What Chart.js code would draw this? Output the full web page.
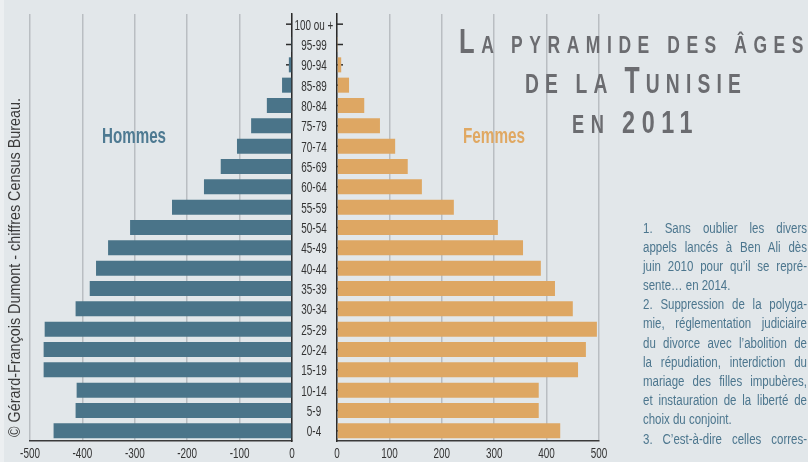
<!DOCTYPE html>
<html lang="fr">
<head>
<meta charset="utf-8">
<title>La pyramide des âges de la Tunisie en 2011</title>
<script src="https://cdn.jsdelivr.net/npm/chart.js@4.4.1/dist/chart.umd.min.js"></script>
<style>
  html, body { margin: 0; padding: 0; }
  body {
    width: 808px; height: 462px; overflow: hidden; position: relative;
    background: #e2e7ea;
    font-family: "Liberation Sans", Arial, sans-serif;
  }
  .edge { position: absolute; left: 0; top: 0; width: 4px; height: 462px; background: #eceff1; }
  #hommes-chart { position: absolute; left: 0; top: 0; }
  #femmes-chart { position: absolute; left: 292px; top: 0; }
  #overlay { position: absolute; left: 0; top: 0; pointer-events: none; }
  /* Arial squeezed to 82 % gives an Arial Narrow look */
  .notes {
    position: absolute; left: 643px; top: 218.5px; width: 200px;
    transform: scaleX(0.82); transform-origin: 0 0;
    font-size: 14px; line-height: 19.2px; color: #4c768e;
  }
  .notes div { height: 19.2px; white-space: nowrap; }
  .notes .j { text-align: justify; text-align-last: justify; }
</style>
</head>
<body>
<div class="edge"></div>
<canvas id="hommes-chart" width="300" height="462"></canvas>
<canvas id="femmes-chart" width="330" height="462"></canvas>

<svg id="overlay" width="808" height="462" xmlns="http://www.w3.org/2000/svg"
     font-family="Liberation Sans, Arial, sans-serif">
  <!-- titre -->
  <g fill="#6b6c70" font-weight="bold" letter-spacing="9">
    <text x="459" y="53" textLength="351" lengthAdjust="spacingAndGlyphs"><tspan font-size="35">L</tspan><tspan font-size="24">A PYRAMIDE DES ÂGES</tspan></text>
    <text x="525" y="93" textLength="222" lengthAdjust="spacingAndGlyphs"><tspan font-size="28">DE LA </tspan><tspan font-size="36">T</tspan><tspan font-size="28">UNISIE</tspan></text>
    <text x="572" y="133" textLength="127" lengthAdjust="spacingAndGlyphs"><tspan font-size="25">EN </tspan><tspan font-size="32">2011</tspan></text>
  </g>
  <!-- sexes -->
  <text x="102" y="143" font-size="22" font-weight="bold" fill="#4e7a92"
        textLength="64" lengthAdjust="spacingAndGlyphs">Hommes</text>
  <text x="463" y="143" font-size="22" font-weight="bold" fill="#e0a862"
        textLength="62" lengthAdjust="spacingAndGlyphs">Femmes</text>
  <!-- source -->
  <text transform="translate(20,437) rotate(-90)" font-size="16" fill="#3a3a3a"
        textLength="339" lengthAdjust="spacingAndGlyphs">© Gérard-François Dumont - chiffres Census Bureau.</text>
</svg>

<div class="notes">
  <div class="j">1. Sans oublier les divers</div>
  <div class="j">appels lancés à Ben Ali dès</div>
  <div class="j">juin 2010 pour qu’il se repré-</div>
  <div>sente… en 2014.</div>
  <div class="j">2. Suppression de la polyga-</div>
  <div class="j">mie, réglementation judiciaire</div>
  <div class="j">du divorce avec l’abolition de</div>
  <div class="j">la répudiation, interdiction du</div>
  <div class="j">mariage des filles impubères,</div>
  <div class="j">et instauration de la liberté de</div>
  <div>choix du conjoint.</div>
  <div class="j">3. C’est-à-dire celles corres-</div>
</div>

<script>
// Classes d'âge (du bas vers le haut de la pyramide)
const ages = ["0-4", "5-9", "10-14", "15-19", "20-24", "25-29", "30-34", "35-39",
  "40-44", "45-49", "50-54", "55-59", "60-64", "65-69", "70-74", "75-79",
  "80-84", "85-89", "90-94", "95-99", "100 ou +"];

const hommes = [-455, -413, -411, -474, -474, -472, -413, -386, -374, -351,
  -309, -229, -168, -136, -105, -78, -48, -19, -6, -1, 0];
const femmes = [426, 385, 385, 460, 475, 496, 450, 416, 389, 355,
  307, 223, 162, 135, 111, 82, 52, 23, 8, 1, 0];

// Bornes des axes horizontaux
const hommesAxis = [-500, 0];
const femmesAxis = [0, 500];

Chart.defaults.font.family = "'Liberation Sans', Arial, sans-serif";

const gridColor = "#b9bec2";
const axisColor = "#2b2b2b";
const textColor = "#333333";
const LABEL_FONT = "15px 'Liberation Sans', Arial, sans-serif";
const SQUEEZE = 0.66; // condensed look for the axis labels

/**
 * Small tick marks pointing into the plot, one per age class
 */
const innerTicks = {
  id: "innerTicks",
  beforeDatasetsDraw(chart, args, opts) {
    const { ctx, chartArea, scales } = chart;
    const right = opts.side === "right";
    const x0 = right ? chartArea.right : chartArea.left;
    const dir = right ? -1 : 1;
    ctx.save();
    ctx.strokeStyle = axisColor;
    ctx.lineWidth = 1.5;
    chart.data.labels.forEach((label, i) => {
      const y = scales.y.getPixelForValue(i);
      ctx.beginPath();
      ctx.moveTo(x0, y);
      ctx.lineTo(x0 + dir * 6, y);
      ctx.stroke();
    });
    ctx.restore();
  },
};

/**
 * Axis labels in a narrow face: value ticks below, age classes beside the axis
 */
const narrowLabels = {
  id: "narrowLabels",
  afterDraw(chart, args, opts) {
    const { ctx, chartArea, scales } = chart;
    const put = (text, x, y) => {
      ctx.save();
      ctx.translate(x, y);
      ctx.scale(SQUEEZE, 1);
      ctx.fillText(text, 0, 0);
      ctx.restore();
    };
    ctx.save();
    ctx.font = LABEL_FONT;
    ctx.fillStyle = textColor;
    ctx.textAlign = "center";
    ctx.textBaseline = "alphabetic";
    scales.x.ticks.forEach((tick, i) => {
      put(String(tick.label), scales.x.getPixelForTick(i), chartArea.bottom + 17);
    });
    if (opts.ages) {
      chart.data.labels.forEach((label, i) => {
        put(label, chartArea.left - 23, scales.y.getPixelForValue(i) + 5.5);
      });
    }
    ctx.restore();
  },
};

function xScale(range) {
  return {
    min: range[0],
    max: range[1],
    ticks: { stepSize: 100, display: false },
    grid: { color: gridColor, lineWidth: 1.5, drawTicks: false },
    border: { color: "#3a3a3a", width: 1.5 },
    afterFit: (scale) => { scale.height = 21; },
  };
}

function yScale(position, width) {
  return {
    position: position,
    reverse: true,
    z: 1,
    ticks: { display: false },
    grid: { display: false, drawTicks: false },
    border: { color: axisColor, width: 1.5 },
    afterFit: (scale) => { scale.width = width; },
  };
}

// Left half: hommes
new Chart(document.getElementById("hommes-chart"), {
  type: "bar",
  data: {
    labels: ages,
    datasets: [{
      label: "Hommes",
      data: hommes,
      backgroundColor: "#4a7489",
      barPercentage: 0.74,
      categoryPercentage: 1,
    }],
  },
  options: {
    indexAxis: "y",
    responsive: false,
    animation: false,
    events: [],
    layout: { padding: { top: 14, left: 30, right: 8, bottom: 0 } },
    plugins: {
      legend: { display: false },
      tooltip: { enabled: false },
      innerTicks: { side: "right" },
      narrowLabels: { ages: false },
    },
    scales: {
      x: xScale(hommesAxis),
      y: yScale("right", 0),
    },
  },
  plugins: [innerTicks, narrowLabels],
});

// Right half: femmes, with the age classes written in the middle gap
new Chart(document.getElementById("femmes-chart"), {
  type: "bar",
  data: {
    labels: ages,
    datasets: [{
      label: "Femmes",
      data: femmes,
      backgroundColor: "#dea763",
      barPercentage: 0.74,
      categoryPercentage: 1,
    }],
  },
  options: {
    indexAxis: "y",
    responsive: false,
    animation: false,
    events: [],
    layout: { padding: { top: 14, left: 0, right: 23, bottom: 0 } },
    plugins: {
      legend: { display: false },
      tooltip: { enabled: false },
      innerTicks: { side: "left" },
      narrowLabels: { ages: true },
    },
    scales: {
      x: xScale(femmesAxis),
      y: yScale("left", 45),
    },
  },
  plugins: [innerTicks, narrowLabels],
});
</script>
</body>
</html>
